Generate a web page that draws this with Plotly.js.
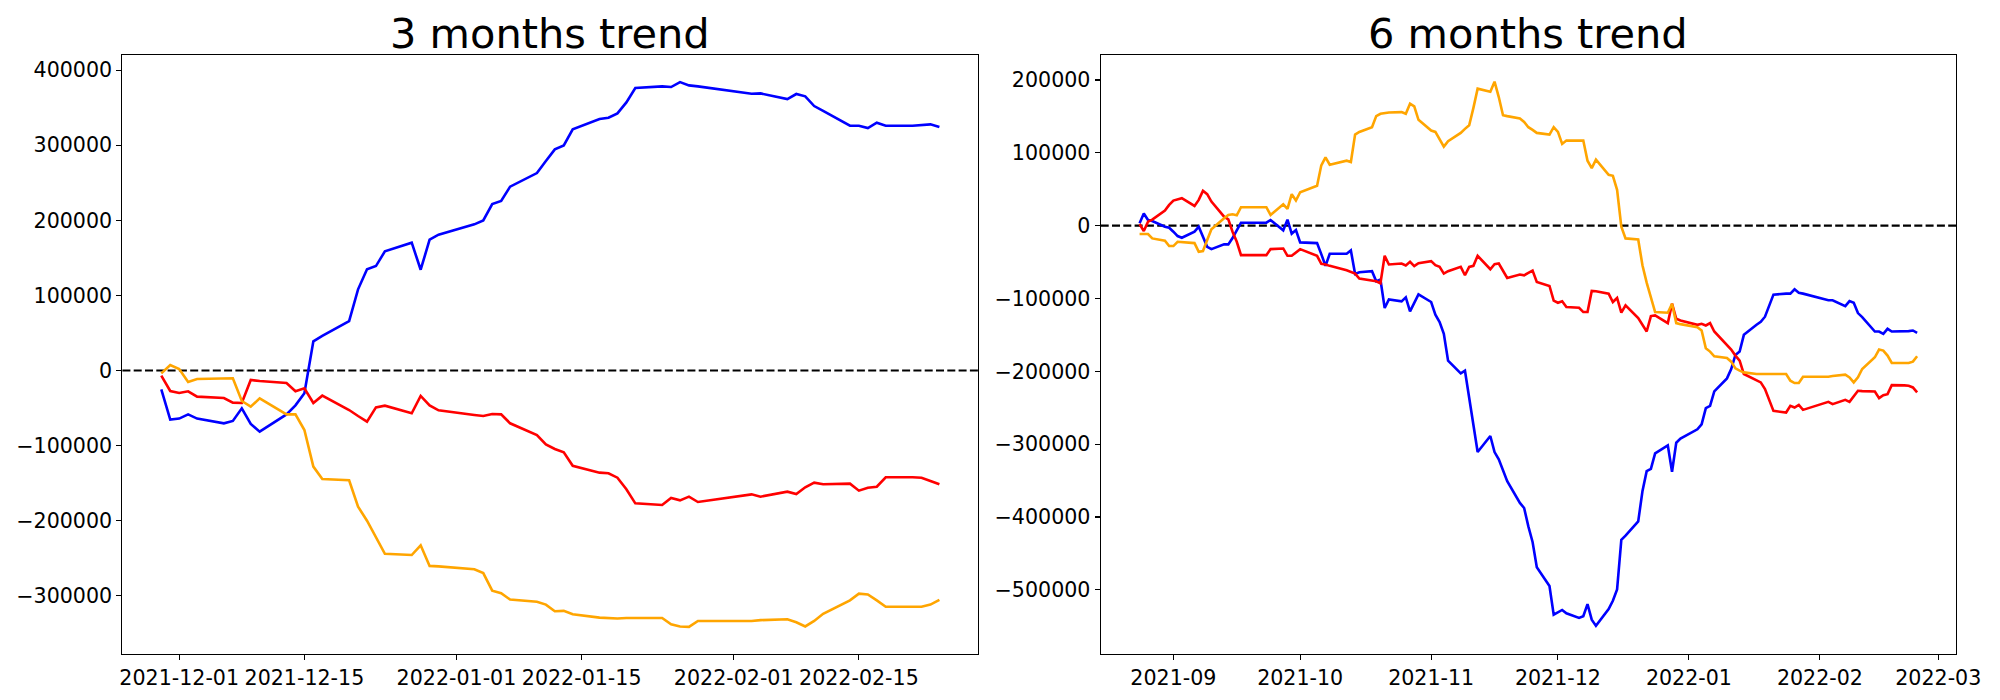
<!DOCTYPE html>
<html>
<head>
<meta charset="utf-8">
<script src="https://cdn.plot.ly/plotly-3.0.1.min.js"></script>
<style>html,body{margin:0;padding:0;background:#fff;}#chart{width:2000px;height:700px;}</style>
</head>
<body>
<div id="chart"></div>
<script>
// ---------- 3 months panel ----------
const dates3 = ['2021-11-29','2021-11-30','2021-12-01','2021-12-02','2021-12-03','2021-12-06','2021-12-07','2021-12-08','2021-12-09','2021-12-10','2021-12-13','2021-12-14','2021-12-15','2021-12-16','2021-12-17','2021-12-20','2021-12-21','2021-12-22','2021-12-23','2021-12-24','2021-12-27','2021-12-28','2021-12-29','2021-12-30','2022-01-03','2022-01-04','2022-01-05','2022-01-06','2022-01-07','2022-01-10','2022-01-11','2022-01-12','2022-01-13','2022-01-14','2022-01-17','2022-01-18','2022-01-19','2022-01-20','2022-01-21','2022-01-24','2022-01-25','2022-01-26','2022-01-27','2022-01-28','2022-02-03','2022-02-04','2022-02-07','2022-02-08','2022-02-09','2022-02-10','2022-02-11','2022-02-14','2022-02-15','2022-02-16','2022-02-17','2022-02-18','2022-02-21','2022-02-22','2022-02-23','2022-02-24'];
const blue3 = [-25100,-65300,-64000,-58400,-64000,-70300,-67200,-50400,-71200,-81400,-58400,-46400,-30400,38800,46000,65900,108100,134900,139100,158700,170200,134200,174200,180800,194600,199900,221700,225700,244800,262900,278900,294500,299800,321100,334800,336600,342400,357000,376100,378400,377500,384100,379700,378400,368600,369000,361500,368200,365100,352200,345600,326000,326000,322900,330000,326000,326000,326400,327800,324200];
const red3 = [-6900,-27300,-30000,-27700,-34800,-36600,-42800,-43300,-12600,-14000,-16600,-27700,-23700,-43300,-33500,-52600,-60600,-68100,-49100,-46800,-57000,-33900,-46400,-53000,-59200,-60600,-57900,-58400,-70300,-85900,-98300,-104500,-109000,-126900,-136000,-136900,-142700,-158200,-176900,-179100,-169800,-172900,-168000,-175100,-164900,-168000,-161300,-164400,-155500,-149300,-151500,-150700,-160000,-156000,-154700,-142200,-142200,-142700,-147100,-151500];
const orange3 = [-3800,7300,2000,-15300,-11300,-10400,-10400,-40600,-48200,-37100,-58400,-58400,-79200,-128000,-144500,-146200,-181300,-200000,-221600,-244000,-245700,-232800,-260200,-260800,-264700,-269700,-293200,-296600,-305000,-307800,-311700,-320600,-320100,-324600,-329000,-329600,-330200,-329600,-329600,-329600,-338000,-340800,-341400,-333500,-333500,-332400,-331300,-335200,-340800,-333500,-324000,-306100,-297100,-298300,-306100,-314500,-314500,-314500,-311700,-305500];
const xticks3 = ['2021-12-01','2021-12-15','2022-01-01','2022-01-15','2022-02-01','2022-02-15'];
const xlabels3 = ['2021-12-01','2021-12-15','2022-01-01','2022-01-15','2022-02-01','2022-02-15'];
const yticks3 = [-300000,-200000,-100000,0,100000,200000,300000,400000];

// ---------- 6 months panel ----------
const dates6 = ['2021-08-24','2021-08-25','2021-08-26','2021-08-27','2021-08-30','2021-08-31',
'2021-09-01','2021-09-02','2021-09-03','2021-09-06','2021-09-07','2021-09-08','2021-09-09','2021-09-10','2021-09-13','2021-09-14','2021-09-15','2021-09-16','2021-09-17','2021-09-23','2021-09-24','2021-09-27','2021-09-28','2021-09-29','2021-09-30',
'2021-10-01','2021-10-05','2021-10-06','2021-10-07','2021-10-08','2021-10-12','2021-10-13','2021-10-14','2021-10-15','2021-10-18','2021-10-19','2021-10-20','2021-10-21','2021-10-22','2021-10-25','2021-10-26','2021-10-27','2021-10-28','2021-10-29',
'2021-11-01','2021-11-02','2021-11-03','2021-11-04','2021-11-05','2021-11-08','2021-11-09','2021-11-10','2021-11-11','2021-11-12','2021-11-15','2021-11-16','2021-11-17','2021-11-18','2021-11-19','2021-11-22','2021-11-23','2021-11-24','2021-11-25','2021-11-26','2021-11-29','2021-11-30',
'2021-12-01','2021-12-02','2021-12-03','2021-12-06','2021-12-07','2021-12-08','2021-12-09','2021-12-10','2021-12-13','2021-12-14','2021-12-15','2021-12-16','2021-12-17','2021-12-20','2021-12-21','2021-12-22','2021-12-23','2021-12-24','2021-12-27','2021-12-28','2021-12-29','2021-12-30',
'2022-01-03','2022-01-04','2022-01-05','2022-01-06','2022-01-07','2022-01-10','2022-01-11','2022-01-12','2022-01-13','2022-01-14','2022-01-17','2022-01-18','2022-01-19','2022-01-20','2022-01-21','2022-01-24','2022-01-25','2022-01-26','2022-01-27','2022-01-28',
'2022-02-03','2022-02-04','2022-02-07','2022-02-08','2022-02-09','2022-02-10','2022-02-11','2022-02-14','2022-02-15','2022-02-16','2022-02-17','2022-02-18','2022-02-21','2022-02-22','2022-02-23','2022-02-24'];
const blue6 = [3200,16600,7800,6400,-1400,-2800,
-8300,-14300,-16600,-8300,-1400,-15200,-29000,-32200,-25700,-25700,-17000,-6400,4100,4100,7800,-6400,8300,-11000,-6000,
-23000,-23900,-39100,-55200,-38600,-38600,-34000,-66200,-63900,-62500,-76300,-74000,-113100,-101200,-103900,-98400,-117700,-107000,-94300,
-104800,-122300,-132400,-148500,-185300,-202800,-199100,-238200,-275000,-310800,-288800,-310800,-320900,-334700,-350800,-380700,-387600,-412900,-434300,-468900,-494800,-534000,
-530500,-527600,-532200,-538600,-536300,-519600,-540900,-549500,-526500,-515000,-499400,-431400,-425700,-406000,-364600,-337000,-333800,-312600,-301600,-337900,-298000,-292400,
-279600,-272700,-250600,-247400,-227600,-209700,-196800,-177500,-172900,-149900,-136100,-132000,-125000,-110000,-94700,-93300,-93300,-87400,-92000,-93300,
-102500,-102500,-110400,-103500,-105800,-120000,-125500,-145300,-145300,-148500,-141600,-145300,-145300,-144800,-143900,-147100];
const red6 = [2300,-7400,5500,8300,20700,28500,
34500,36300,37700,27100,35400,47800,43200,33100,12400,8700,-8300,-22100,-40500,-40500,-32200,-31300,-41400,-41400,-36800,
-32200,-41400,-52400,-53300,-55200,-61200,-63500,-65800,-72600,-74900,-76300,-79100,-41400,-53300,-52000,-54700,-49700,-55600,-51500,
-48700,-54300,-56600,-65800,-62500,-56600,-68100,-56600,-55200,-41400,-59800,-52900,-52000,-61200,-71700,-67100,-68100,-64800,-61600,-77200,-82800,-103000,
-105800,-103900,-111700,-112700,-118600,-118600,-89700,-90100,-93300,-104800,-99300,-119500,-109400,-126900,-136100,-145300,-124100,-123200,-133800,-107100,-127800,-130100,
-136100,-134700,-137000,-133800,-145300,-163200,-170100,-178400,-185300,-203700,-212900,-215200,-224400,-239000,-254300,-256600,-247400,-249700,-246000,-252900,
-241900,-245100,-239100,-241900,-233600,-226700,-227200,-227600,-236800,-232700,-231300,-218900,-219300,-219800,-222100,-229000];
const orange6 = [-11500,-11500,-11500,-17500,-20700,-28000,
-28000,-22100,-22500,-23900,-35900,-34900,-19800,-5100,10100,14700,15600,14300,25300,25300,14700,29400,23000,43200,34500,
46000,54700,82800,93800,83700,89200,87400,125100,128700,135200,150400,153600,155000,155400,155900,153600,167400,163700,145300,
130600,128700,119500,108500,115900,127400,132900,137900,161800,188100,183900,197700,176600,151700,150400,147100,142500,135200,131500,127400,125100,135200,
128700,112200,116800,116800,116800,89200,79100,90600,69900,68500,49200,-1400,-17500,-18900,-54300,-78200,-97900,-118600,-119500,-107100,-133800,-135200,
-139300,-143900,-168300,-172900,-179300,-181600,-186700,-195900,-199100,-201400,-203700,-203700,-204200,-204000,-203700,-203700,-212900,-216100,-216100,-207400,
-207400,-206400,-204600,-208300,-215200,-208300,-196800,-180700,-170100,-171500,-178400,-188500,-188500,-188500,-186700,-179300];
const xticks6 = ['2021-09-01','2021-10-01','2021-11-01','2021-12-01','2022-01-01','2022-02-01','2022-03-01'];
const xlabels6 = ['2021-09','2021-10','2021-11','2021-12','2022-01','2022-02','2022-03'];
const yticks6 = [-500000,-400000,-300000,-200000,-100000,0,100000,200000];

const titles = ['3 months trend','6 months trend'];
const colors = {blue:'#0000ff', red:'#ff0000', orange:'#ffa500'};

const FONT = 'DejaVu Sans, Liberation Sans, sans-serif';
function line(x, y, color, xa, ya){
  return {x:x, y:y, type:'scatter', mode:'lines', xaxis:xa, yaxis:ya,
          line:{color:color, width:2.6}, hoverinfo:'skip', showlegend:false};
}
const data = [
  line(dates3, blue3, colors.blue, 'x', 'y'),
  line(dates3, red3, colors.red, 'x', 'y'),
  line(dates3, orange3, colors.orange, 'x', 'y'),
  line(dates6, blue6, colors.blue, 'x2', 'y2'),
  line(dates6, red6, colors.red, 'x2', 'y2'),
  line(dates6, orange6, colors.orange, 'x2', 'y2')
];

const W = 2000, H = 700;
const L1 = 122.4, R1 = 978.3, L2 = 1100.7, R2 = 1956.0, T = 54.8, B = 654.3;
const common = {
  showline:true, mirror:true, linecolor:'#000', linewidth:1.1,
  ticks:'outside', ticklen:5, tickwidth:1.1, tickcolor:'#000',
  showgrid:false, zeroline:false,
  tickfont:{family:FONT, size:20.6, color:'#000'}
};
const layout = {
  width:W, height:H, margin:{l:0,r:0,t:0,b:0},
  paper_bgcolor:'#fff', plot_bgcolor:'#fff', showlegend:false,
  font:{family:FONT, color:'#000'},
  xaxis: Object.assign({}, common, {domain:[L1/W, R1/W], anchor:'y', type:'date',
    range:['2021-11-24 15:36','2022-02-28 08:24'], tickvals:xticks3, ticktext:xlabels3}),
  yaxis: Object.assign({}, common, {domain:[1-B/H, 1-T/H], anchor:'x',
    range:[-377900, 420400], tickvals:yticks3, tickformat:'d'}),
  xaxis2: Object.assign({}, common, {domain:[L2/W, R2/W], anchor:'y2', type:'date',
    range:['2021-08-14 19:12','2022-03-05 04:48'], tickvals:xticks6, ticktext:xlabels6}),
  yaxis2: Object.assign({}, common, {domain:[1-B/H, 1-T/H], anchor:'x2',
    range:[-588500, 234600], tickvals:yticks6, tickformat:'d'}),
  shapes:[
    {type:'line', xref:'x domain', yref:'y', x0:0, x1:1, y0:0, y1:0, line:{color:'#000', width:2.1, dash:'8px,3.3px'}, layer:'below'},
    {type:'line', xref:'x2 domain', yref:'y2', x0:0, x1:1, y0:0, y1:0, line:{color:'#000', width:2.1, dash:'8px,3.3px'}, layer:'below'}
  ],
  annotations:[
    {text:titles[0], xref:'paper', yref:'paper', x:(L1+R1)/2/W, y:1-33/H, xanchor:'center', yanchor:'middle', showarrow:false, font:{family:FONT, size:41.5, color:'#000'}},
    {text:titles[1], xref:'paper', yref:'paper', x:(L2+R2)/2/W, y:1-33/H, xanchor:'center', yanchor:'middle', showarrow:false, font:{family:FONT, size:41.5, color:'#000'}}
  ]
};
Plotly.newPlot('chart', data, layout, {staticPlot:true, displayModeBar:false});
</script>
</body>
</html>
